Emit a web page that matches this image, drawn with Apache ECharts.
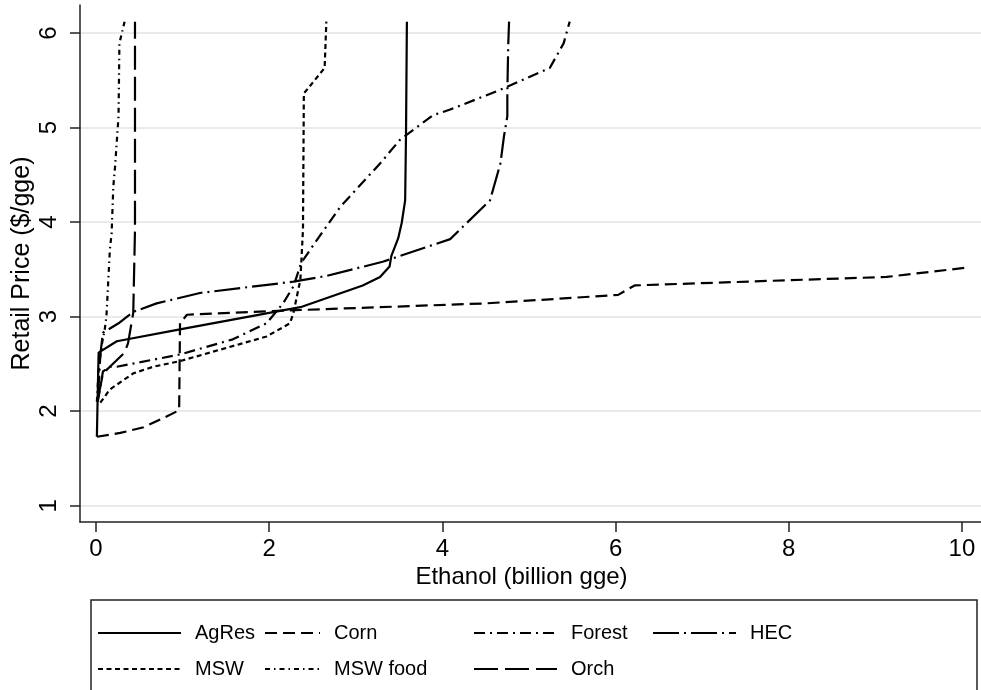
<!DOCTYPE html>
<html>
<head>
<meta charset="utf-8">
<script src="https://cdn.jsdelivr.net/npm/echarts@6/dist/echarts.min.js"></script>
<style>
html,body{margin:0;padding:0;background:#fff;}
#chart{width:981px;height:690px;}
</style>
</head>
<body>
<div id="chart"></div>
<script>
const xTicks = [0, 2, 4, 6, 8, 10];
const yTicks = [1, 2, 3, 4, 5, 6];
const seriesNames = ['AgRes', 'Corn', 'Forest', 'HEC', 'MSW', 'MSW food', 'Orch'];

const agres = [[0.01,1.73],[0.02,2.2],[0.03,2.62],[0.24,2.74],[1.0,2.87],[2.0,3.04],[2.36,3.10],[3.08,3.33],[3.28,3.42],[3.39,3.53],[3.41,3.64],[3.49,3.83],[3.53,3.99],[3.57,4.23],[3.58,4.94],[3.59,6.12]];
const corn = [[0.01,1.73],[0.28,1.77],[0.55,1.83],[0.76,1.92],[0.96,2.01],[0.97,2.93],[1.05,3.02],[2.36,3.07],[4.5,3.14],[6.03,3.23],[6.22,3.33],[9.13,3.42],[10.07,3.52]];
const forest = [[0.02,2.1],[0.08,2.42],[0.16,2.47],[0.24,2.47],[0.97,2.6],[1.58,2.76],[1.97,2.93],[2.16,3.14],[2.28,3.32],[2.37,3.57],[2.55,3.81],[2.82,4.16],[3.28,4.62],[3.51,4.87],[3.89,5.13],[4.09,5.19],[4.67,5.40],[5.24,5.63],[5.40,5.89],[5.47,6.12]];
const hec = [[0.02,2.1],[0.05,2.6],[0.08,2.83],[0.26,2.93],[0.43,3.05],[0.70,3.14],[1.2,3.25],[2.28,3.37],[2.66,3.43],[3.31,3.58],[4.09,3.82],[4.55,4.23],[4.67,4.62],[4.71,4.90],[4.75,5.12],[4.75,5.37],[4.76,5.86],[4.77,6.12]];
const msw = [[0.05,2.09],[0.16,2.23],[0.43,2.40],[0.66,2.47],[0.97,2.53],[1.97,2.79],[2.24,2.93],[2.28,3.04],[2.36,3.39],[2.39,3.92],[2.40,5.36],[2.64,5.63],[2.66,6.12]];
const mswFood = [[0.01,2.1],[0.03,2.44],[0.07,2.72],[0.1,2.86],[0.12,3.0],[0.16,3.71],[0.18,3.88],[0.2,4.38],[0.22,4.59],[0.26,5.12],[0.27,5.89],[0.33,6.12]];
const orch = [[0.02,2.12],[0.08,2.4],[0.16,2.47],[0.33,2.62],[0.37,2.72],[0.43,3.04],[0.45,3.92],[0.45,6.12]];

const seriesData = [agres, corn, forest, hec, msw, mswFood, orch];
const dashes = ['solid', [12, 6], [11, 5, 2, 5], [26, 5, 2, 5], [5, 3.5], [5, 4, 1.5, 4], [24, 7]];
const legendPos = [[97, 623], [264, 623], [473, 623], [652, 623], [97, 659], [264, 659], [473, 659]];
const legendKeyWidth = [83, 55, 83, 83, 83, 55, 83];

const FONT = 'Liberation Sans, Arial, Helvetica, sans-serif';

const chart = echarts.init(document.getElementById('chart'), null, {renderer: 'canvas'});

const option = {
  backgroundColor: '#fff',
  animation: false,
  grid: {left: 80, top: 5, right: 0, bottom: 168, containLabel: false, outerBoundsMode: 'none'},
  xAxis: {
    type: 'value',
    min: -0.185,
    max: 10.22,
    name: 'Ethanol (billion gge)',
    nameLocation: 'middle',
    nameGap: 43,
    nameMoveOverlap: false,
    nameTextStyle: {fontFamily: FONT, fontSize: 24, color: '#000', padding: [0, 18, 0, 0]},
    axisLine: {show: true, onZero: false, lineStyle: {color: '#222', width: 1.5}},
    axisTick: {show: true, length: 10, customValues: xTicks, lineStyle: {color: '#222', width: 1.5}},
    axisLabel: {customValues: xTicks, margin: 15, fontFamily: FONT, fontSize: 24, color: '#000'},
    splitLine: {show: false}
  },
  yAxis: {
    type: 'value',
    min: 0.828,
    max: 6.296,
    name: 'Retail Price ($/gge)',
    nameLocation: 'middle',
    nameRotate: 90,
    nameGap: 45,
    nameMoveOverlap: false,
    nameTextStyle: {fontFamily: FONT, fontSize: 25, color: '#000'},
    axisLine: {show: true, onZero: false, lineStyle: {color: '#222', width: 1.5}},
    axisTick: {show: true, length: 10, customValues: yTicks, lineStyle: {color: '#222', width: 1.5}},
    axisLabel: {customValues: yTicks, rotate: 90, margin: 19, fontFamily: FONT, fontSize: 24, color: '#000'},
    splitLine: {show: true, lineStyle: {color: '#eaeaea', width: 2}}
  },
  legend: seriesNames.map((n, i) => ({
    data: [n],
    left: legendPos[i][0],
    top: legendPos[i][1],
    itemWidth: legendKeyWidth[i],
    itemHeight: 20,
    selectedMode: false,
    padding: 0,
    itemStyle: {color: 'transparent', borderWidth: 0, opacity: 0},
    textStyle: {fontFamily: FONT, fontSize: 20, color: '#000', padding: [0, 0, 0, 9]}
  })),
  graphic: [{
    type: 'rect',
    shape: {x: 91, y: 600, width: 886, height: 120},
    style: {fill: 'none', stroke: '#222', lineWidth: 1.5},
    silent: true
  }],
  series: seriesNames.map((n, i) => ({
    name: n,
    type: 'line',
    data: seriesData[i],
    showSymbol: false,
    symbol: 'none',
    smooth: false,
    lineStyle: {color: '#000', width: 2.2, type: dashes[i]},
    itemStyle: {color: '#000'},
    emphasis: {disabled: true}
  }))
};
chart.setOption(option);
</script>
</body>
</html>
